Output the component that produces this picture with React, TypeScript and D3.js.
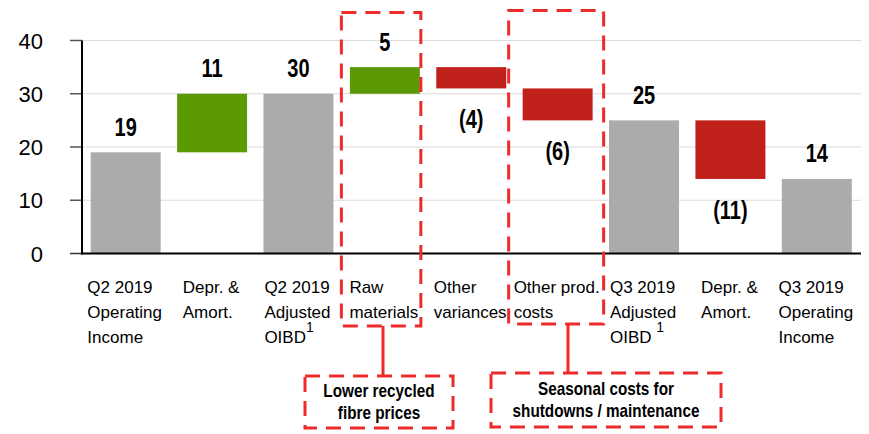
import React, { useEffect, useRef } from "react";
import * as d3 from "d3";

const categories: string[] = [
  "Q2 2019\nOperating\nIncome",
  "Depr. &\nAmort.",
  "Q2 2019\nAdjusted\nOIBD^1",
  "Raw\nmaterials",
  "Other\nvariances",
  "Other prod.\ncosts",
  "Q3 2019\nAdjusted\nOIBD ^1",
  "Depr. &\nAmort.",
  "Q3 2019\nOperating\nIncome",
];
const kinds: string[] = ["total", "delta", "total", "delta", "delta", "delta", "total", "delta", "total"];
const values: number[] = [19, 11, 30, 5, -4, -6, 25, -11, 14];
const valueLabels: string[] = ["19", "11", "30", "5", "(4)", "(6)", "25", "(11)", "14"];
const yTicks: number[] = [0, 10, 20, 30, 40];
const calloutTexts: string[][] = [
  ["Lower recycled", "fibre prices"],
  ["Seasonal costs for", "shutdowns / maintenance"],
];
const highlighted: number[] = [3, 5];

const W = 869;
const H = 434;
const GRAY = "#ABABAB";
const GREEN = "#5B9A04";
const RED = "#C0211A";
const DASH = "#EE2B2B";
const FONT = "'Liberation Sans', Arial, sans-serif";

export default function App() {
  const ref = useRef<SVGSVGElement | null>(null);

  useEffect(() => {
    const svg = d3.select(ref.current);
    svg.selectAll("*").remove();

    const y = d3.scaleLinear().domain([0, 40]).range([253.5, 40.5]);
    const x = d3
      .scaleBand<number>()
      .domain(categories.map((_, i) => i))
      .range([82.5, 860])
      .paddingInner(0.19)
      .paddingOuter(0.095);
    const bw = x.bandwidth();

    let run = 0;
    const bars = values.map((v, i) => {
      if (kinds[i] === "total") {
        run = v;
        return { i, lo: 0, hi: v, color: GRAY, neg: false };
      }
      const start = run;
      run = run + v;
      return {
        i,
        lo: Math.min(start, run),
        hi: Math.max(start, run),
        color: v >= 0 ? GREEN : RED,
        neg: v < 0,
      };
    });

    // grid
    svg
      .append("g")
      .selectAll("line")
      .data(yTicks.filter((t) => t > 0))
      .join("line")
      .attr("x1", 82)
      .attr("x2", 861)
      .attr("y1", (d) => y(d))
      .attr("y2", (d) => y(d))
      .attr("stroke", "#DADADA")
      .attr("stroke-width", 1);

    // bars
    svg
      .append("g")
      .selectAll("rect")
      .data(bars)
      .join("rect")
      .attr("x", (d) => x(d.i)!)
      .attr("width", bw)
      .attr("y", (d) => y(d.hi))
      .attr("height", (d) => y(d.lo) - y(d.hi))
      .attr("fill", (d) => d.color);

    // axis
    const ax = svg.append("g");
    ax.selectAll("line.tick")
      .data(yTicks)
      .join("line")
      .attr("class", "tick")
      .attr("x1", 70)
      .attr("x2", 82)
      .attr("y1", (d) => y(d))
      .attr("y2", (d) => y(d))
      .attr("stroke", (d) => (d === 0 ? "#333" : "#555"))
      .attr("stroke-width", 1.5);
    ax.append("line")
      .attr("x1", 82)
      .attr("x2", 82)
      .attr("y1", y(40))
      .attr("y2", y(0) + 1)
      .attr("stroke", "#000")
      .attr("stroke-width", 2);
    ax.append("line")
      .attr("x1", 81)
      .attr("x2", 861)
      .attr("y1", y(0))
      .attr("y2", y(0))
      .attr("stroke", "#000")
      .attr("stroke-width", 2);
    ax.selectAll("text")
      .data(yTicks)
      .join("text")
      .attr("x", 43)
      .attr("y", (d) => y(d) + 8)
      .attr("text-anchor", "end")
      .attr("font-family", FONT)
      .attr("font-size", 22)
      .attr("fill", "#000")
      .text((d) => String(d));

    // value labels (condensed bold)
    svg
      .append("g")
      .selectAll("text")
      .data(bars)
      .join("text")
      .attr(
        "transform",
        (d) =>
          `translate(${x(d.i)! + bw / 2},${d.neg ? y(d.lo) + 40 : y(d.hi) - 16.5}) scale(0.8,1)`
      )
      .attr("text-anchor", "middle")
      .attr("font-family", FONT)
      .attr("font-weight", "bold")
      .attr("font-size", 25)
      .attr("fill", "#000")
      .text((d) => valueLabels[d.i]);

    // category labels
    const cg = svg.append("g");
    categories.forEach((c, i) => {
      const t = cg
        .append("text")
        .attr("font-family", FONT)
        .attr("font-size", 17)
        .attr("fill", "#000")
        .attr("y", 293);
      c.split("\n").forEach((line, li) => {
        const parts = line.split("^");
        t.append("tspan")
          .attr("x", 0)
          .attr("y", 293 + li * 25)
          .text(parts[0]);
        if (parts.length > 1) {
          t.append("tspan")
            .attr("dy", -11)
            .attr("font-size", 14)
            .text(parts[1]);
        }
      });
      let maxW = 0;
      t.selectAll<SVGTSpanElement, unknown>("tspan").each(function () {
        if (this.getAttribute("x") !== null) {
          maxW = Math.max(maxW, this.getComputedTextLength());
        }
      });
      const left = x(i)! + bw / 2 - maxW / 2 - 1;
      t.selectAll<SVGTSpanElement, unknown>("tspan").each(function () {
        if (this.getAttribute("x") !== null) this.setAttribute("x", String(left));
      });
    });

    const dashAttrs = (sel: any) =>
      sel
        .attr("fill", "none")
        .attr("stroke", DASH)
        .attr("stroke-width", 3)
        .attr("stroke-dasharray", "15 9");

    const boxPads = [
      { l: 8.5, r: 1, top: 12.5, bottom: 326, lineX: 383, callout: { x: 305, y: 376, w: 148, h: 52 } },
      { l: 14, r: 11, top: 10.5, bottom: 324, lineX: 568, callout: { x: 491, y: 373, w: 230, h: 54 } },
    ];
    highlighted.forEach((ci, k) => {
      const p = boxPads[k];
      const x0 = x(ci)! - p.l;
      const x1 = x(ci)! + bw + p.r;
      dashAttrs(
        svg
          .append("rect")
          .attr("x", x0)
          .attr("y", p.top)
          .attr("width", x1 - x0)
          .attr("height", p.bottom - p.top)
      );
      dashAttrs(
        svg
          .append("line")
          .attr("x1", p.lineX)
          .attr("x2", p.lineX)
          .attr("y1", p.bottom)
          .attr("y2", p.callout.y)
      ).attr("stroke-dasharray", null);
      dashAttrs(
        svg
          .append("rect")
          .attr("x", p.callout.x)
          .attr("y", p.callout.y)
          .attr("width", p.callout.w)
          .attr("height", p.callout.h)
      );
      const cx = p.callout.x + p.callout.w / 2;
      const cy = p.callout.y + p.callout.h / 2;
      calloutTexts[k].forEach((line, li) => {
        svg
          .append("text")
          .attr("transform", `translate(${cx},${cy - 11 + li * 22 + 6}) scale(0.85,1)`)
          .attr("text-anchor", "middle")
          .attr("font-family", FONT)
          .attr("font-weight", "bold")
          .attr("font-size", 18)
          .attr("fill", "#000")
          .text(line);
      });
    });
  }, []);

  return (
    <svg
      ref={ref}
      width={W}
      height={H}
      style={{ position: "absolute", left: 0, top: 0, background: "#fff" }}
    />
  );
}
